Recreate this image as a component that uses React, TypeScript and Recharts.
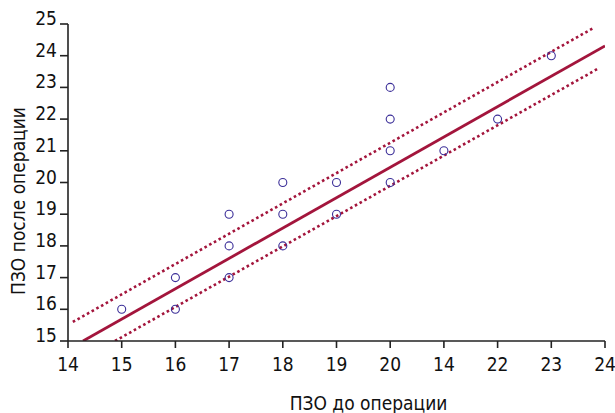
import React from 'react';
import { ComposedChart, Scatter, Line, XAxis, YAxis } from 'recharts';

const xTickValues = [14, 15, 16, 17, 18, 19, 20, 21, 22, 23, 24];
const xTickLabels = ['14', '15', '16', '17', '18', '19', '20', '14', '22', '23', '24'];
const yTickValues = [15, 16, 17, 18, 19, 20, 21, 22, 23, 24, 25];

const preOp = [15, 16, 16, 17, 17, 17, 18, 18, 18, 19, 19, 20, 20, 20, 20, 21, 22, 23];
const postOp = [16, 17, 16, 19, 18, 17, 20, 19, 18, 20, 19, 23, 22, 21, 20, 21, 22, 24];

const fitX = [14.28, 24];
const fitY = [15, 24.31];
const upperX = [14.09, 23.78];
const upperY = [15.6, 24.87];
const lowerX = [14.875, 23.89];
const lowerY = [15, 23.61];

const xAxisTitle = 'ПЗО до операции';
const yAxisTitle = 'ПЗО после операции';

const points = preOp.map((x, i) => ({ x, y: postOp[i] }));
const toLine = (xs: number[], ys: number[]) => xs.map((x, i) => ({ x, y: ys[i] }));
const fitData = toLine(fitX, fitY);
const upperData = toLine(upperX, upperY);
const lowerData = toLine(lowerX, lowerY);

const FONT = '"DejaVu Sans Condensed", "Liberation Sans Narrow", "Liberation Sans", sans-serif';
const LINE_COLOR = '#a3153c';
const DOT_COLOR = '#3b2e98';

const XTick = (props: any) => {
  const { x, y, payload } = props;
  const idx = xTickValues.indexOf(payload.value);
  const label = idx >= 0 ? xTickLabels[idx] : String(payload.value);
  return (
    <text x={x} y={y + 21} textAnchor="middle" fontFamily={FONT} fontSize={19} fill="#111">
      {label}
    </text>
  );
};

const YTick = (props: any) => {
  const { x, y, payload } = props;
  return (
    <text x={x} y={y + 1} textAnchor="end" fontFamily={FONT} fontSize={19} fill="#111">
      {payload.value}
    </text>
  );
};

const XTitle = (props: any) => {
  const vb = props.viewBox;
  return (
    <text x={vb.x + vb.width / 2 + 32} y={vb.y + 69} textAnchor="middle" fontFamily={FONT} fontSize={19} fill="#111">
      {xAxisTitle}
    </text>
  );
};

const YTitle = () => {
  const cx = 25;
  const cy = 201;
  return (
    <text x={cx} y={cy} textAnchor="middle" fontFamily={FONT} fontSize={19} fill="#111" transform={`rotate(-90, ${cx}, ${cy})`}>
      {yAxisTitle}
    </text>
  );
};

const Circle = (props: any) => {
  const { cx, cy } = props;
  return <circle cx={cx} cy={cy} r={4} fill="none" stroke={DOT_COLOR} strokeWidth={1.1} />;
};

export default function App() {
  return (
    <div style={{ position: 'absolute', left: 0, top: 0, background: '#fff' }}>
      <ComposedChart
        width={615}
        height={413}
        margin={{ top: 24, right: 10, bottom: 22, left: 8 }}
      >
        <XAxis
          type="number"
          dataKey="x"
          domain={[14, 24]}
          ticks={xTickValues}
          allowDataOverflow
          height={50}
          tickSize={7}
          tickMargin={2}
          axisLine={{ stroke: '#222', strokeWidth: 1.6 }}
          tickLine={{ stroke: '#222', strokeWidth: 1.6 }}
          tick={<XTick />}
          interval={0}
          label={<XTitle />}
        />
        <YAxis
          type="number"
          dataKey="y"
          domain={[15, 25]}
          ticks={yTickValues}
          allowDataOverflow
          width={60}
          tickSize={8}
          tickMargin={3}
          axisLine={{ stroke: '#222', strokeWidth: 1.6 }}
          tickLine={{ stroke: '#222', strokeWidth: 1.6 }}
          tick={<YTick />}
          interval={0}
          label={<YTitle />}
        />
        <Line data={upperData} dataKey="y" stroke={LINE_COLOR} strokeWidth={2.6} strokeDasharray="2.6 2.8" dot={false} isAnimationActive={false} />
        <Line data={lowerData} dataKey="y" stroke={LINE_COLOR} strokeWidth={2.6} strokeDasharray="2.6 2.8" dot={false} isAnimationActive={false} />
        <Line data={fitData} dataKey="y" stroke={LINE_COLOR} strokeWidth={2.8} dot={false} isAnimationActive={false} />
        <Scatter data={points} dataKey="y" shape={<Circle />} isAnimationActive={false} />
      </ComposedChart>
    </div>
  );
}
